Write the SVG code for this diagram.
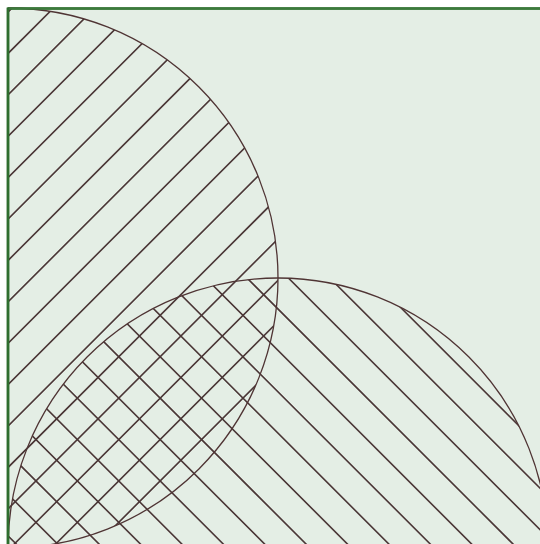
<svg xmlns="http://www.w3.org/2000/svg" width="540" height="544" viewBox="0 0 540 544">
  <style>
    .hatch { stroke: #4a3636; stroke-width: 1.6; fill: none; }
    .outline { stroke: #4f3434; stroke-width: 1.3; fill: none; }
  </style>
  <defs>
    <clipPath id="clipA">
      <path d="M8,8 A270,270 0 0 1 8,548 Z"/>
    </clipPath>
    <clipPath id="clipB">
      <path d="M8,548 A270,270 0 0 1 548,548 Z"/>
    </clipPath>
  </defs>
  <rect x="0" y="0" width="540" height="544" fill="#ffffff"/>
  <rect id="frame" x="8" y="8.5" width="560" height="560" fill="#e4eee5" stroke="#3c7a3c" stroke-width="2.5"/>
  <g id="hatchA" clip-path="url(#clipA)" class="hatch">
    <path d="M-10,30.1 L30.1,-10 M-10,71.5 L71.5,-10 M-10,112.9 L112.9,-10 M-10,154.3 L154.3,-10 M-10,195.7 L195.7,-10 M-10,237.1 L237.1,-10 M-10,278.5 L278.5,-10 M-10,319.9 L319.9,-10 M-10,361.3 L361.3,-10 M-10,402.7 L402.7,-10 M-10,444.1 L444.1,-10 M-10,485.5 L485.5,-10 M-10,526.9 L526.9,-10 M-10,568.3 L568.3,-10 M-10,609.7 L609.7,-10 M-10,651.1 L651.1,-10"/>
  </g>
  <g id="hatchB" clip-path="url(#clipB)" class="hatch">
    <path d="M-10,-144.6 L700,565.4 M-10,-103.2 L700,606.8 M-10,-61.8 L700,648.2 M-10,-20.4 L700,689.6 M-10,21 L700,731 M-10,62.4 L700,772.4 M-10,103.8 L700,813.8 M-10,145.2 L700,855.2 M-10,186.6 L700,896.6 M-10,228 L700,938 M-10,269.4 L700,979.4 M-10,310.8 L700,1020.8 M-10,352.2 L700,1062.2 M-10,393.6 L700,1103.6 M-10,435 L700,1145 M-10,476.4 L700,1186.4 M-10,517.8 L700,1227.8"/>
  </g>
  <g id="circleA">
    <path class="outline" d="M8,8 A270,270 0 0 1 8,548"/>
  </g>
  <g id="circleB">
    <path class="outline" d="M8,548 A270,270 0 0 1 548,548"/>
  </g>
  <line x1="8" y1="8.5" x2="540" y2="8.5" stroke="#3c7a3c" stroke-width="2.5"/>
  <line x1="8" y1="8" x2="8" y2="544" stroke="#2f6e2f" stroke-width="2.5"/>
</svg>
